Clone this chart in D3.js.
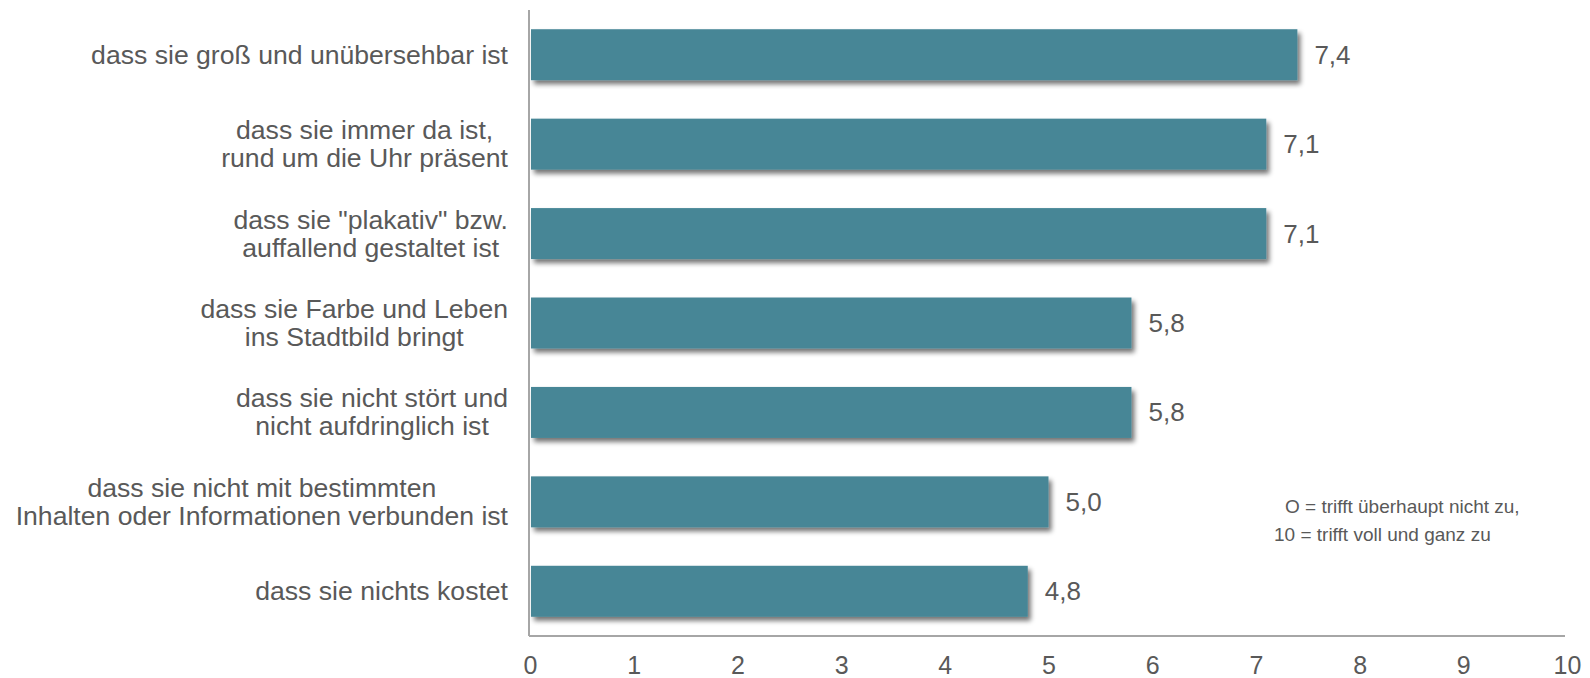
<!DOCTYPE html>
<html>
<head>
<meta charset="utf-8">
<script src="https://cdn.jsdelivr.net/npm/d3@7"></script>
<style>
  html, body { margin: 0; padding: 0; background: #ffffff; }
  svg { display: block; font-family: "Liberation Sans", Arial, Helvetica, sans-serif; }
</style>
</head>
<body>
<svg id="chart" width="1590" height="678"></svg>
<script>
// ---- data ----
const categories = [
  ["dass sie groß und unübersehbar ist"],
  ["dass sie immer da ist,", "rund um die Uhr präsent"],
  ["dass sie \"plakativ\" bzw.", "auffallend gestaltet ist"],
  ["dass sie Farbe und Leben", "ins Stadtbild bringt"],
  ["dass sie nicht stört und", "nicht aufdringlich ist"],
  ["dass sie nicht mit bestimmten", "Inhalten oder Informationen verbunden ist"],
  ["dass sie nichts kostet"]
];
const values = [7.4, 7.1, 7.1, 5.8, 5.8, 5.0, 4.8];
const valueLabels = ["7,4", "7,1", "7,1", "5,8", "5,8", "5,0", "4,8"];
const tickValues = [0, 1, 2, 3, 4, 5, 6, 7, 8, 9, 10];
const noteLines = ["O = trifft überhaupt nicht zu,", "10 = trifft voll und ganz zu"];

// ---- layout ----
const svg = d3.select("#chart");
const mLeft = 530, mRight = 1567, mTop = 10, mBottom = 636;
const textColor = "#595959";
const barColor = "#468696";
const axisColor = "#a6a6a6";

const x = d3.scaleLinear().domain([0, 10]).range([mLeft, mRight]);
const y = d3.scaleBand().domain(d3.range(categories.length)).range([mTop, mBottom]).paddingInner(0.43).paddingOuter(0.215);

// shadow filter
const defs = svg.append("defs");
const f = defs.append("filter").attr("id", "shadow").attr("x", "-5%").attr("y", "-30%").attr("width", "115%").attr("height", "180%");
f.append("feGaussianBlur").attr("in", "SourceAlpha").attr("stdDeviation", 2.5).attr("result", "blur");
f.append("feOffset").attr("in", "blur").attr("dx", 3).attr("dy", 4).attr("result", "off");
f.append("feComponentTransfer").attr("in", "off").attr("result", "shadow")
  .append("feFuncA").attr("type", "linear").attr("slope", 0.55);
const merge = f.append("feMerge");
merge.append("feMergeNode").attr("in", "shadow");
merge.append("feMergeNode").attr("in", "SourceGraphic");

// bars
svg.append("g").selectAll("rect").data(values).join("rect")
  .attr("x", x(0) + 1)
  .attr("y", (d, i) => y(i))
  .attr("width", d => x(d) - x(0) - 1)
  .attr("height", y.bandwidth())
  .attr("fill", barColor)
  .attr("filter", "url(#shadow)");

// axes
const xAxis = d3.axisBottom(x).tickValues(tickValues).tickSize(0).tickPadding(20).tickFormat(d3.format("d"));
const gx = svg.append("g").attr("transform", `translate(0,${mBottom})`).call(xAxis);
gx.select(".domain").attr("stroke", axisColor).attr("stroke-width", 2).attr("d", `M${mLeft - 1},0H${mRight - 2}`);
gx.selectAll("text").attr("fill", textColor).attr("font-size", 25).attr("font-family", "Liberation Sans, Arial, sans-serif");

svg.append("line")
  .attr("x1", mLeft - 1).attr("x2", mLeft - 1)
  .attr("y1", mTop).attr("y2", mBottom)
  .attr("stroke", axisColor).attr("stroke-width", 2);

// category labels (centered multi-line block, right edge fixed)
const labelRight = 508;
const lineH = 28;
const lg = svg.append("g");
categories.forEach((lines, i) => {
  const cy = y(i) + y.bandwidth() / 2;
  const t = lg.append("text")
    .attr("fill", textColor)
    .attr("font-size", 26.6)
    .attr("text-anchor", "middle");
  lines.forEach((ln, j) => {
    t.append("tspan")
      .attr("dy", j === 0 ? 0 : lineH)
      .text(ln);
  });
  let maxW = 0;
  t.selectAll("tspan").each(function () { maxW = Math.max(maxW, this.getComputedTextLength()); });
  const cx = labelRight - maxW / 2;
  const y0 = cy - (lines.length - 1) * lineH / 2;
  t.selectAll("tspan").attr("x", cx);
  t.select("tspan").attr("y", y0);
  t.attr("dominant-baseline", "central");
  t.selectAll("tspan").attr("dominant-baseline", "central");
});

// value labels
svg.append("g").selectAll("text").data(values).join("text")
  .attr("x", d => x(d) + 17)
  .attr("y", (d, i) => y(i) + y.bandwidth() / 2)
  .attr("dominant-baseline", "central")
  .attr("fill", textColor)
  .attr("font-size", 26)
  .text((d, i) => valueLabels[i]);

// note
const note = svg.append("text").attr("fill", textColor).attr("font-size", 19);
noteLines.forEach((ln, j) => {
  note.append("tspan").attr("x", j === 0 ? 1285 : 1274).attr("y", 506 + j * 28)
    .attr("dominant-baseline", "central").text(ln);
});
</script>
</body>
</html>
